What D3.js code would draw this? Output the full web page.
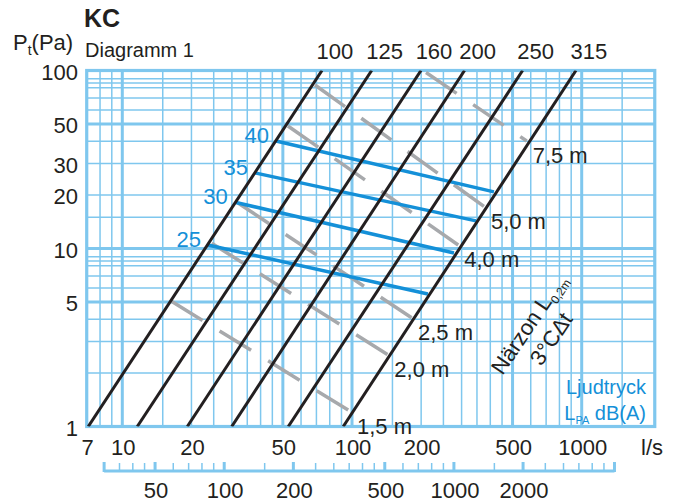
<!DOCTYPE html>
<html><head><meta charset="utf-8">
<script src="https://cdn.jsdelivr.net/npm/d3@7"></script>
<style>
body{margin:0;background:#fff}
text{font-family:"Liberation Sans",Arial,Helvetica,sans-serif;fill:#231f20}
</style></head><body>
<svg id="c" width="679" height="502"></svg>
<script>
// ---------- data ----------
const qTickLabels = [7, 10, 20, 50, 100, 200, 500, 1000];           // l/s
const pTickLabels = [1, 5, 10, 20, 30, 50, 100];                      // Pa
const qFrame = [7, 2080];                                             // l/s extent of the grid
const pFrame = [1, 100];                                              // Pa extent of the grid
const qGridMajor = [10, 50, 100, 500, 1000];
const qGridMinor = [8, 9, 15, 20, 25, 30, 35, 40, 45, 60, 70, 80, 90, 150, 200, 250, 300, 350, 400, 450, 600, 700, 800, 900, 1500];
const pGridMajor = [5, 10, 50];
const pGridMinor = [2, 3, 4, 6, 7, 8, 8.5, 9, 15, 20, 30, 40, 60, 70, 80, 85, 90];

const m3hLabels = [50, 100, 200, 500, 1000, 2000];                   // m3/h
const m3hEnds = [30, 5000];
const m3hMinor = [35, 40, 45, 60, 70, 80, 90, 150, 250, 300, 350, 400, 450, 600, 700, 800, 900, 1500, 2500, 3000, 3500, 4000, 4500];

const ductSizes = ["100", "125", "160", "200", "250", "315"];
const ductQAt1Pa = [7.11, 11.62, 19.19, 29.95, 52.8, 91.6];
const ductQAt100Pa = [74.0, 121.8, 199.7, 309, 553, 944];

const throwLabels = ["1,5 m", "2,0 m", "2,5 m", "4,0 m", "5,0 m", "7,5 m"];
const throwStart = [[16.3, 5.07], [24.5, 10.7], [31.9, 18.0], [52.6, 48.8], [69.0, 82.9], [210, 97.4]];
const throwEnd = [[99.0, 1.21], [143.9, 2.52], [182.5, 4.07], [290, 10.46], [379, 17.1], [576, 40.2]];

const soundLevels = ["25", "30", "35", "40"];
const soundStart = [[23.6, 10.46], [30.9, 18.2], [37.8, 26.6], [46.7, 40.2]];
const soundEnd = [[214, 5.55], [278, 9.44], [346.6, 14.3], [415, 20.8]];

// ---------- style ----------
const GRID = "#7fc7ee", BLUE = "#1490d8", GRAY = "#a7a9ac", BLACK = "#231f20";

const svg = d3.select("#c");
const x = d3.scaleLog().domain([10, 1000]).range([122.3, 581.7]);
const y = d3.scaleLog().domain([1, 100]).range([426.5, 70.5]);
const xm = v => x(v / 3.6); // m3/h -> l/s

const x0 = x(qFrame[0]), x1 = x(qFrame[1]), y0 = y(pFrame[0]), y1 = y(pFrame[1]);

// grid
const g = svg.append("g");
g.selectAll(".vmin").data(qGridMinor).join("line")
  .attr("x1", d => x(d)).attr("x2", d => x(d)).attr("y1", y0).attr("y2", y1)
  .attr("stroke", GRID).attr("stroke-width", 1.5);
g.selectAll(".hmin").data(pGridMinor).join("line")
  .attr("y1", d => y(d)).attr("y2", d => y(d)).attr("x1", x0).attr("x2", x1)
  .attr("stroke", GRID).attr("stroke-width", 1.5);
g.selectAll(".vmaj").data(qGridMajor).join("line")
  .attr("x1", d => x(d)).attr("x2", d => x(d)).attr("y1", y0).attr("y2", y1)
  .attr("stroke", GRID).attr("stroke-width", 3);
g.selectAll(".hmaj").data(pGridMajor).join("line")
  .attr("y1", d => y(d)).attr("y2", d => y(d)).attr("x1", x0).attr("x2", x1)
  .attr("stroke", GRID).attr("stroke-width", 3);
g.append("rect").attr("x", x0).attr("y", y1).attr("width", x1 - x0).attr("height", y0 - y1)
  .attr("fill", "none").attr("stroke", GRID).attr("stroke-width", 3.2);

// clip
svg.append("clipPath").attr("id", "pc").append("rect")
  .attr("x", x0).attr("y", y1).attr("width", x1 - x0).attr("height", y0 - y1);
const plot = svg.append("g").attr("clip-path", "url(#pc)");
const line = d3.line().x(d => x(d[0])).y(d => y(d[1]));

// throw (gray dashed)
plot.selectAll(".thr").data(throwLabels).join("path")
  .attr("d", (d, i) => line([throwStart[i], throwEnd[i]]))
  .attr("fill", "none").attr("stroke", GRAY).attr("stroke-width", 3.5)
  .attr("stroke-dasharray", "37,20");

// sound (blue)
plot.selectAll(".snd").data(soundLevels).join("path")
  .attr("d", (d, i) => line([soundStart[i], soundEnd[i]]))
  .attr("fill", "none").attr("stroke", BLUE).attr("stroke-width", 3.5);

// duct lines (black)
plot.selectAll(".duct").data(ductSizes).join("path")
  .attr("d", (d, i) => line([[ductQAt1Pa[i], 1], [ductQAt100Pa[i], 100]]))
  .attr("fill", "none").attr("stroke", BLACK).attr("stroke-width", 3);

// labels
const FS = 22;
svg.selectAll(".dl").data(ductSizes).join("text")
  .attr("x", (d, i) => x(ductQAt100Pa[i]) + 13).attr("y", 59)
  .attr("text-anchor", "middle").attr("font-size", FS).text(d => d);

svg.selectAll(".tl").data(throwLabels).join("text")
  .attr("x", (d, i) => x(throwEnd[i][0]) + 6).attr("y", (d, i) => y(throwEnd[i][1]) + 22)
  .attr("font-size", FS).text(d => d);

svg.selectAll(".sl").data(soundLevels).join("text")
  .attr("x", (d, i) => x(soundStart[i][0]) - 7).attr("y", (d, i) => y(soundStart[i][1]) + 2)
  .attr("text-anchor", "end").attr("font-size", FS).style("fill", BLUE).text(d => d);

// axes labels
svg.selectAll(".yl").data(pTickLabels).join("text")
  .attr("x", 78).attr("y", d => y(d) + 9).attr("text-anchor", "end")
  .attr("font-size", FS).text(d => d);
svg.selectAll(".xl").data(qTickLabels).join("text")
  .attr("x", d => x(d) + 1).attr("y", 455).attr("text-anchor", "middle")
  .attr("font-size", FS).text(d => d);
svg.append("text").attr("x", 652).attr("y", 455).attr("text-anchor", "middle")
  .attr("font-size", FS).text("l/s");

// secondary m3/h axis
const ax = svg.append("g");
ax.append("line").attr("x1", xm(m3hEnds[0])).attr("x2", xm(m3hEnds[1]))
  .attr("y1", 471).attr("y2", 471).attr("stroke", GRID).attr("stroke-width", 3);
ax.selectAll(".mt").data(m3hMinor).join("line")
  .attr("x1", d => xm(d)).attr("x2", d => xm(d)).attr("y1", 463).attr("y2", 471)
  .attr("stroke", GRID).attr("stroke-width", 1.5);
ax.selectAll(".Mt").data(m3hLabels.concat(m3hEnds)).join("line")
  .attr("x1", d => xm(d)).attr("x2", d => xm(d)).attr("y1", 462).attr("y2", 472)
  .attr("stroke", GRID).attr("stroke-width", 3);
ax.selectAll(".ml").data(m3hLabels).join("text")
  .attr("x", d => xm(d) + 1).attr("y", 498).attr("text-anchor", "middle")
  .attr("font-size", FS).text(d => d);

// titles
svg.append("text").attr("x", 84).attr("y", 27).attr("font-size", 25).attr("font-weight", "bold").text("KC");
const pt = svg.append("text").attr("x", 13).attr("y", 50).attr("font-size", FS);
pt.append("tspan").text("P");
pt.append("tspan").attr("font-size", 14).attr("dy", 5).text("t");
pt.append("tspan").attr("dy", -5).text("(Pa)");
svg.append("text").attr("x", 85).attr("y", 56.5).attr("font-size", 20).text("Diagramm 1");

// Närzon
const nz = svg.append("g").attr("transform", "translate(535,328) rotate(-56)");
const t1 = nz.append("text").attr("text-anchor", "middle").attr("font-size", FS);
t1.append("tspan").text("Närzon L");
t1.append("tspan").attr("font-size", 12).attr("dy", 5).text("0,2m");
nz.append("text").attr("text-anchor", "middle").attr("font-size", FS).attr("y", 27).text("3°CΔt");

// Ljudtryck
svg.append("text").attr("x", 646).attr("y", 394).attr("text-anchor", "end")
  .attr("font-size", 20).style("fill", BLUE).text("Ljudtryck");
const lp = svg.append("text").attr("x", 646).attr("y", 420).attr("text-anchor", "end")
  .attr("font-size", 20).style("fill", BLUE);
lp.append("tspan").text("L");
lp.append("tspan").attr("font-size", 11).attr("dy", 4).text("PA");
lp.append("tspan").attr("dy", -4).text(" dB(A)");
</script>
</body></html>
